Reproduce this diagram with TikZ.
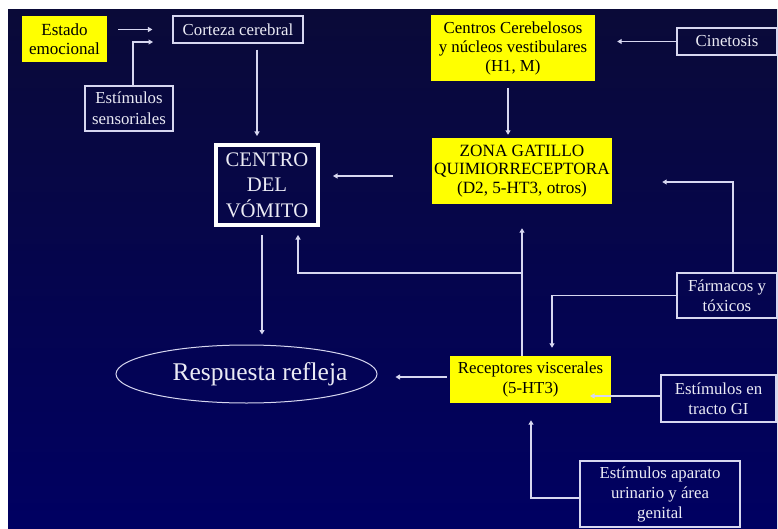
\documentclass[tikz,border=0pt]{standalone}
\usepackage{fontspec}
\setmainfont{Liberation Serif}
\usetikzlibrary{arrows.meta,shapes.geometric,calc}
\definecolor{bgtop}{RGB}{10,10,56}
\definecolor{bgbot}{RGB}{0,0,98}
\definecolor{yel}{RGB}{255,255,0}
\definecolor{lin}{RGB}{215,215,240}
\definecolor{txt}{RGB}{235,235,245}
\begin{document}
\begin{tikzpicture}[x=1pt,y=-1pt,
  box/.style={draw=lin, line width=1.2pt, text=txt, align=center, inner sep=0pt, font=\fontsize{16.8}{19.5}\selectfont},
  ybox/.style={fill=yel, draw=none, text=black, align=center, inner sep=0pt, font=\fontsize{16.8}{19.5}\selectfont},
  arr/.style={draw=lin, line width=1.2pt, -{Triangle[width=5pt,length=4.5pt]}}]
\useasboundingbox (0,0) rectangle (778,529);
\fill[white] (0,0) rectangle (778,529);
\shade[top color=bgtop, bottom color=bgbot] (8,10) rectangle (777,529);

\node[ybox, minimum width=85pt, minimum height=46pt, font=\fontsize{17}{18.5}\selectfont] (estado) at (64.5,39) {Estado\\emocional};
\node[box, minimum width=130pt, minimum height=27pt] (corteza) at (238,29.5) {Corteza cerebral};
\node[box, minimum width=88pt, minimum height=45pt, font=\fontsize{16.8}{21}\selectfont] (estim) at (129,108.5) {Estímulos\\sensoriales};
\node[box, draw=white, line width=4pt, minimum width=102pt, minimum height=80pt, font=\fontsize{20.7}{25.5}\selectfont] (centro) at (267,185) {CENTRO\\DEL\\VÓMITO};
\node[ybox, minimum width=164pt, minimum height=66pt, font=\fontsize{16.8}{19}\selectfont] (centros) at (513,48) {Centros Cerebelosos\\y núcleos vestibulares\\(H1, M)};
\node[box, minimum width=100pt, minimum height=27pt] (cinet) at (727,41.5) {Cinetosis};
\node[ybox, minimum width=180pt, minimum height=66pt, font=\fontsize{17.2}{18.7}\selectfont] (zona) at (522,171) {ZONA GATILLO\\QUIMIORRECEPTORA\\(D2, 5-HT3, otros)};
\node[ellipse, draw=lin, line width=1pt, text=txt, inner sep=0pt, minimum width=261pt, minimum height=58pt, font=\fontsize{25.5}{30}\selectfont] (resp) at (246.5,374) {\hspace*{27pt}\makebox[0pt]{Respuesta refleja}};
\node[ybox, minimum width=161pt, minimum height=47pt] (recep) at (530.5,379.5) {Receptores viscerales\\(5-HT3)};
\node[box, minimum width=100pt, minimum height=45pt] (farm) at (727,295.5) {Fármacos y\\tóxicos};
\node[box, minimum width=115pt, minimum height=47pt] (gi) at (718.5,398.5) {Estímulos en\\tracto GI};
\node[box, minimum width=160pt, minimum height=66pt, font=\fontsize{16.8}{20}\selectfont] (uri) at (660,494) {Estímulos aparato\\urinario y área\\genital};

\coordinate (x257) at (257,0);
\coordinate (x508) at (508,0);
\coordinate (y176) at (0,176);
\coordinate (x262) at (262,0);
\coordinate (x522) at (522,0);
\coordinate (j) at (522,273);
\coordinate (x298) at (298,0);
\coordinate (x733) at (733,0);
\coordinate (y182) at (0,182);
\coordinate (x552) at (552,0);
\coordinate (y377) at (0,377);
\coordinate (tipGI) at (590,396);
\coordinate (x531) at (531,0);
\coordinate (k42) at (153,42);

\draw[arr, shorten <=11pt, shorten >=20pt] (estado.east |- corteza.west) -- (corteza.west);
\draw[arr] ([xshift=4pt]estim.north) |- (k42);
\draw[arr, shorten <=6pt, shorten >=7pt] (corteza.south -| x257) -- (centro.north -| x257);
\draw[arr, shorten <=7pt, shorten >=3pt] (centros.south -| x508) -- (zona.north -| x508);
\draw[arr, shorten >=22pt] (cinet.west) -- (centros.east |- cinet.west);
\draw[arr, shorten <=39pt, shorten >=13pt] (zona.west |- y176) -- (centro.east |- y176);
\draw[arr, shorten <=8pt, shorten >=10pt] (centro.south -| x262) -- (resp.north -| x262);
\draw[arr, shorten >=24pt] (recep.north -| x522) -- (zona.south -| x522);
\draw[arr, shorten >=8pt] (j) -| (centro.south -| x298);
\draw[arr, shorten >=50pt] (farm.north -| x733) |- (zona.east |- y182);
\draw[arr, shorten >=8pt] (farm.west) -| (recep.north -| x552);
\draw[arr, shorten <=3pt, shorten >=18pt] (recep.west |- y377) -- (resp.east |- y377);
\draw[arr] (gi.west |- tipGI) -- (tipGI);
\draw[arr, shorten >=17pt] ([yshift=-4pt]uri.west) -| (recep.south -| x531);
\end{tikzpicture}
\end{document}
